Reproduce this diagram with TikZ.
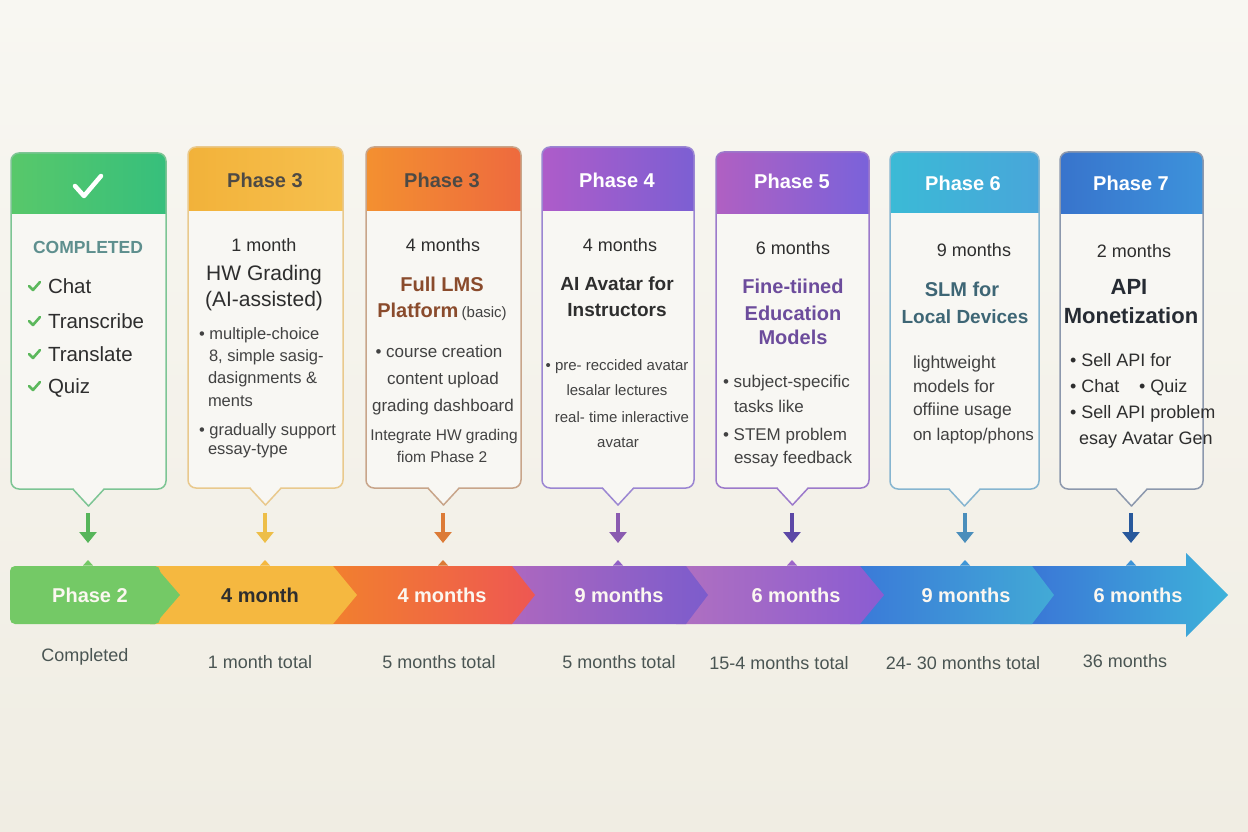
\documentclass[tikz,border=0pt]{standalone}
\usepackage{fontspec}
\setmainfont{Liberation Sans}
\usetikzlibrary{arrows.meta}

% page and card surfaces
\definecolor{bgTop}{HTML}{F8F7F2}
\definecolor{bgBot}{HTML}{F0EDE3}
\definecolor{cardfill}{HTML}{F8F7F3}
% text colours
\definecolor{txtdark}{HTML}{2E2E2E}
\definecolor{txtbody}{HTML}{424242}
\definecolor{txtlabel}{HTML}{4A5553}
\definecolor{hdgray}{HTML}{4D4A45}
\definecolor{barwhite}{HTML}{FBF7F0}
% phase colours: header left/right, border, arrow
\definecolor{gL}{HTML}{58C86A}\definecolor{gR}{HTML}{36BF7C}\definecolor{gB}{HTML}{7DC594}\definecolor{gA}{HTML}{56B55A}
\definecolor{yL}{HTML}{F2B23A}\definecolor{yR}{HTML}{F6C04E}\definecolor{yB}{HTML}{E9C98D}\definecolor{yA}{HTML}{EDBE48}
\definecolor{oL}{HTML}{F39030}\definecolor{oR}{HTML}{EE6A3E}\definecolor{oB}{HTML}{C8A58A}\definecolor{oA}{HTML}{DC7B37}
\definecolor{pL}{HTML}{AE5CC9}\definecolor{pR}{HTML}{7C5FD3}\definecolor{pB}{HTML}{9B86D2}\definecolor{pA}{HTML}{8A5BB0}
\definecolor{qL}{HTML}{B060C2}\definecolor{qR}{HTML}{7A62DA}\definecolor{qB}{HTML}{9C7ACB}\definecolor{qA}{HTML}{5C48A6}
\definecolor{tL}{HTML}{3BBAD6}\definecolor{tR}{HTML}{48A6DA}\definecolor{tB}{HTML}{86B5D0}\definecolor{tA}{HTML}{4A8EBB}
\definecolor{nL}{HTML}{3874CC}\definecolor{nR}{HTML}{3D92DB}\definecolor{nB}{HTML}{8C98AD}\definecolor{nA}{HTML}{28599C}
% title colours inside cards
\definecolor{lmsbrown}{HTML}{8A4B2C}
\definecolor{edupurple}{HTML}{6C4C9C}
\definecolor{slmteal}{HTML}{3E6675}
\definecolor{apidark}{HTML}{262B33}
\definecolor{donecol}{HTML}{5E8F8E}
\definecolor{checkgreen}{HTML}{5CB85C}
% timeline bar colours
\definecolor{bone}{HTML}{74C966}
\definecolor{btwo}{HTML}{F5B840}
\definecolor{bthrL}{HTML}{F2822C}\definecolor{bthrR}{HTML}{EE5752}
\definecolor{bfouL}{HTML}{B068BE}\definecolor{bfouR}{HTML}{7C5CCC}
\definecolor{bfivL}{HTML}{B070C0}\definecolor{bfivR}{HTML}{8A5CD2}
\definecolor{bsixL}{HTML}{3A78D8}\definecolor{bsixR}{HTML}{42AAD6}
\definecolor{bsevL}{HTML}{3A74D6}\definecolor{bsevR}{HTML}{3EB2DA}

\tikzset{
  every node/.style={inner sep=0pt, outer sep=0pt},
  hd/.style={font=\fontsize{20}{24}\selectfont\bfseries, anchor=base},
  dur/.style={font=\fontsize{18}{22}\selectfont, anchor=base, text=txtdark},
  ttlreg/.style={font=\fontsize{21}{25}\selectfont, anchor=base, text=txtdark},
  ttlbold/.style={font=\fontsize{20}{24}\selectfont\bfseries, anchor=base},
  item/.style={font=\fontsize{20.5}{24}\selectfont, anchor=base west, text=txtdark},
  bl/.style={font=\fontsize{16.5}{20}\selectfont, anchor=base west, text=txtbody},
  blc/.style={font=\fontsize{17}{20}\selectfont, anchor=base, text=txtbody},
  sml/.style={font=\fontsize{15}{18}\selectfont, anchor=base, text=txtbody},
  barlbl/.style={font=\fontsize{20}{24}\selectfont\bfseries, anchor=base, text=barwhite},
  lab/.style={font=\fontsize{18}{22}\selectfont, anchor=base, text=txtlabel},
  downarr/.style={line width=4.8pt, -{Triangle[width=17pt,length=11pt]}},
  tick/.style={line width=2.6pt, line cap=round, line join=round, checkgreen},
}

% one phase card: x1, x2, top, header bottom, bottom, header left/right colour, border colour
\newcommand\phasecard[8]{%
  \pgfmathsetmacro\pcx{(#1+#2)/2}
  \begin{scope}
    \clip[rounded corners=8] (#1,#3) rectangle (#2,#5);
    \fill[cardfill] (#1,#3) rectangle (#2,#5);
    \shade[left color=#6, right color=#7] (#1,#3) rectangle (#2,#4);
  \end{scope}
  \draw[#8, line width=1.5pt, rounded corners=8] (#1,#3) rectangle (#2,#5);
  \fill[cardfill] (\pcx-15,#5-1.5) -- (\pcx+15,#5-1.5) -- (\pcx+15,#5) -- (\pcx,#5+17) -- (\pcx-15,#5) -- cycle;
  \draw[#8, line width=1.5pt, line join=round] (\pcx-15.7,#5) -- (\pcx,#5+17) -- (\pcx+15.7,#5);
}

\begin{document}
\begin{tikzpicture}[x=1pt, y=-1pt]
\useasboundingbox (0,0) rectangle (1248,832);
\shade[top color=bgTop, bottom color=bgBot] (0,0) rectangle (1248,832);

% ---------- cards ----------
\phasecard{11}{166}{153}{213}{489}{gL}{gR}{gB}
\phasecard{188}{343}{147}{210}{488}{yL}{yR}{yB}
\phasecard{366}{521}{147}{210}{488}{oL}{oR}{oB}
\phasecard{542}{694}{147}{210}{488}{pL}{pR}{pB}
\phasecard{716}{869}{152}{213}{488}{qL}{qR}{qB}
\phasecard{890}{1039}{152}{212}{489}{tL}{tR}{tB}
\phasecard{1060}{1203}{152}{213}{489}{nL}{nR}{nB}

% card 1: completed
\draw[white, line width=4.5pt, line cap=round, line join=round] (75,186) -- (84,196) -- (101,176);
\node[font=\fontsize{17.5}{21}\selectfont\bfseries, anchor=base, text=donecol] (c1t) at (88,253) {COMPLETED};
\foreach \b [count=\i] in {293,328,361,393}
  \draw[tick] (29,\b-7) -- (33,\b-3) -- (40,\b-11);
\node[item] (c1a) at (48,293) {Chat};
\node[item] (c1b) at (48,328) {Transcribe};
\node[item] (c1c) at (48,361) {Translate};
\node[item] (c1d) at (48,393) {Quiz};

% card 2
\node[hd, text=hdgray] (h2) at (265,187) {Phase 3};
\node[dur] (c2d) at (264,251) {1 month};
\node[ttlreg] (c2t1) at (264,280) {HW Grading};
\node[ttlreg] (c2t2) at (264,306) {(AI-assisted)};
\node[bl] (c2a) at (199,339) {• multiple-choice};
\node[bl] (c2b) at (209,361) {8, simple sasig-};
\node[bl] (c2c) at (208,383) {dasignments \&};
\node[bl] (c2e) at (208,406) {ments};
\node[bl] (c2f) at (199,435) {• gradually support};
\node[bl] (c2g) at (208,454) {essay-type};

% card 3
\node[hd, text=hdgray] (h3) at (442,187) {Phase 3};
\node[dur] (c3d) at (443,251) {4 months};
\node[ttlbold, text=lmsbrown] (c3t1) at (442,291) {Full LMS};
\node[ttlbold, text=lmsbrown] (c3t2) at (442,317) {Platform\,{\fontsize{15}{18}\selectfont\mdseries\color{txtbody}(basic)}};
\node[blc] (c3a) at (439,357) {• course creation};
\node[blc] (c3b) at (443,384) {content upload};
\node[blc] (c3c) at (443,411) {grading dashboard};
\node[sml, font=\fontsize{15.5}{18}\selectfont] (c3e) at (444,440) {Integrate HW grading};
\node[sml, font=\fontsize{15.5}{18}\selectfont] (c3f) at (442,462) {fiom Phase 2};

% card 4
\node[hd, text=white] (h4) at (617,187) {Phase 4};
\node[dur] (c4d) at (620,251) {4 months};
\node[ttlbold, font=\fontsize{19}{23}\selectfont\bfseries, text=txtdark] (c4t1) at (617,290) {AI Avatar for};
\node[ttlbold, font=\fontsize{19}{23}\selectfont\bfseries, text=txtdark] (c4t2) at (617,316) {Instructors};
\node[sml] (c4a) at (617,370) {• pre- reccided avatar};
\node[sml] (c4b) at (617,395) {lesalar lectures};
\node[sml] (c4c) at (622,422) {real- time inleractive};
\node[sml] (c4e) at (618,447) {avatar};

% card 5
\node[hd, text=white] (h5) at (792,189) {Phase 5};
\node[dur] (c5d) at (793,254) {6 months};
\node[ttlbold, text=edupurple] (c5t1) at (793,293) {Fine-tiined};
\node[ttlbold, text=edupurple] (c5t2) at (793,320) {Education};
\node[ttlbold, text=edupurple] (c5t3) at (793,344) {Models};
\node[bl, font=\fontsize{17}{20}\selectfont] (c5a) at (723,387) {• subject-specific};
\node[bl, font=\fontsize{17}{20}\selectfont] (c5b) at (734,412) {tasks like};
\node[bl, font=\fontsize{17}{20}\selectfont] (c5c) at (723,440) {• STEM problem};
\node[bl, font=\fontsize{17}{20}\selectfont] (c5e) at (734,463) {essay feedback};

% card 6
\node[hd, text=white] (h6) at (963,190) {Phase 6};
\node[dur] (c6d) at (974,256) {9 months};
\node[ttlbold, text=slmteal] (c6t1) at (962,296) {SLM for};
\node[ttlbold, font=\fontsize{19}{23}\selectfont\bfseries, text=slmteal] (c6t2) at (965,323) {Local Devices};
\node[bl, font=\fontsize{17.5}{21}\selectfont] (c6a) at (913,368) {lightweight};
\node[bl, font=\fontsize{17.5}{21}\selectfont] (c6b) at (913,392) {models for};
\node[bl, font=\fontsize{17.5}{21}\selectfont] (c6c) at (913,415) {offiine usage};
\node[bl, font=\fontsize{17}{21}\selectfont] (c6e) at (913,440) {on laptop/phons};

% card 7
\node[hd, text=white] (h7) at (1131,190) {Phase 7};
\node[dur] (c7d) at (1134,257) {2 months};
\node[ttlbold, font=\fontsize{22}{26}\selectfont\bfseries, text=apidark] (c7t1) at (1129,294) {API};
\node[ttlbold, font=\fontsize{22}{26}\selectfont\bfseries, text=apidark] (c7t2) at (1131,323) {Monetization};
\node[bl, font=\fontsize{18}{21}\selectfont, text=txtdark] (c7a) at (1070,366) {• Sell API for};
\node[bl, font=\fontsize{18}{21}\selectfont, text=txtdark] (c7b) at (1070,392) {• Chat};
\node[bl, font=\fontsize{18}{21}\selectfont, text=txtdark] (c7c) at (1139,392) {• Quiz};
\node[bl, font=\fontsize{18}{21}\selectfont, text=txtdark] (c7e) at (1070,418) {• Sell API problem};
\node[bl, font=\fontsize{18}{21}\selectfont, text=txtdark] (c7f) at (1079,444) {esay Avatar Gen};

% ---------- timeline bar (drawn from the head back, so each chevron overlaps the next piece) ----------
\shade[left color=bsevL, right color=bsevR] (1020,566) -- (1186,566) -- (1186,553) -- (1228,595) -- (1186,637) -- (1186,624) -- (1020,624) -- cycle;
\shade[left color=bsixL, right color=bsixR] (850,566) -- (1032,566) -- (1054,595) -- (1032,624) -- (850,624) -- cycle;
\shade[left color=bfivL, right color=bfivR] (676,566) -- (860,566) -- (884,595) -- (860,624) -- (676,624) -- cycle;
\shade[left color=bfouL, right color=bfouR] (500,566) -- (686,566) -- (708,595) -- (686,624) -- (500,624) -- cycle;
\shade[left color=bthrL, right color=bthrR] (320,566) -- (512,566) -- (535,595) -- (512,624) -- (320,624) -- cycle;
\fill[btwo] (140,566) -- (333,566) -- (357,595) -- (333,624) -- (140,624) -- cycle;
\fill[bone, rounded corners=5] (10,566) rectangle (160,624);
\fill[bone] (150,566) -- (155,566) -- (180,595) -- (155,624) -- (150,624) -- cycle;

% marker bumps on top of the bar
\coordinate (m1) at (88,566);   \coordinate (m2) at (265,566);
\coordinate (m3) at (443,566);  \coordinate (m4) at (618,566);
\coordinate (m5) at (792,566);  \coordinate (m6) at (965,566);
\coordinate (m7) at (1131,566);
\foreach \m/\c in {m1/bone, m2/btwo, m3/oA, m4/bfouR!60!bfouL, m5/bfivR!50!bfivL, m6/bsixR!60!bsixL, m7/bsevR!50!bsevL}
  \fill[\c] ([xshift=-5pt,yshift=0.5pt]\m) -- ([yshift=6pt]\m) -- ([xshift=5pt,yshift=0.5pt]\m) -- cycle;

% bar labels
\node[barlbl] (b1) at (90,602) {Phase 2};
\node[barlbl, text=txtdark] (b2) at (260,602) {4 month};
\node[barlbl] (b3) at (442,602) {4 months};
\node[barlbl] (b4) at (619,602) {9 months};
\node[barlbl] (b5) at (796,602) {6 months};
\node[barlbl] (b6) at (966,602) {9 months};
\node[barlbl] (b7) at (1138,602) {6 months};

% ---------- arrows from cards down to the bar ----------
\foreach \x/\c [count=\i] in {88/gA, 265/yA, 443/oA, 618/pA, 792/qA, 965/tA, 1131/nA} {
  \coordinate (s\i) at (\x,513);
  \coordinate (e\i) at (\x,543);
  \draw[downarr, \c] (s\i) -- (e\i);
}

% ---------- running totals ----------
\node[lab] (t1) at (85,661) {Completed};
\node[lab] (t2) at (260,668) {1 month total};
\node[lab] (t3) at (439,668) {5 months total};
\node[lab] (t4) at (619,668) {5 months total};
\node[lab] (t5) at (779,669) {15-4 months total};
\node[lab] (t6) at (963,669) {24- 30 months total};
\node[lab] (t7) at (1125,667) {36 months};
\end{tikzpicture}
\end{document}
